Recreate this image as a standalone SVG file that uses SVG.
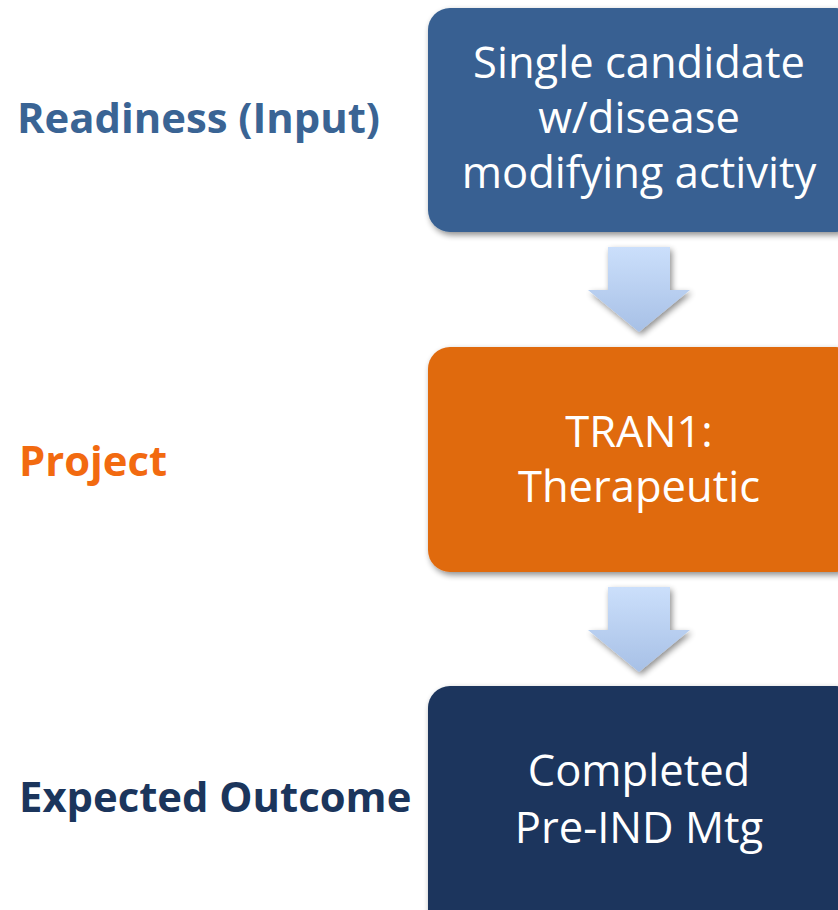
<svg xmlns="http://www.w3.org/2000/svg" width="838" height="910" viewBox="0 0 838 910">
<style>
.box text{font-family:"Open Sans",Lato,sans-serif;font-size:43.5px;fill:#fff;text-anchor:middle}
.lbl{font-family:"Open Sans",Lato,sans-serif;font-size:41.8px;font-weight:bold}
</style>
<defs>
<filter id="sh" x="-10%" y="-10%" width="130%" height="130%">
<feGaussianBlur in="SourceAlpha" stdDeviation="3"/>
<feOffset dx="2" dy="3"/>
<feComponentTransfer><feFuncA type="linear" slope="0.45"/></feComponentTransfer>
<feMerge><feMergeNode/><feMergeNode in="SourceGraphic"/></feMerge>
</filter>
<linearGradient id="ag" x1="0" y1="0" x2="0" y2="1">
<stop offset="0" stop-color="#cbdffb"/>
<stop offset="1" stop-color="#a7c0e6"/>
</linearGradient>
</defs>
<rect width="838" height="910" fill="#fff"/>
<text class="lbl" x="17" y="133" fill="#3a6494">Readiness (Input)</text>
<text class="lbl" x="19" y="476" fill="#f26a10">Project</text>
<text class="lbl" x="19" y="812" fill="#1b355c">Expected Outcome</text>
<g id="connectors" filter="url(#sh)">
<path d="M608 247 H670 V290 H690 L639 332 L588 290 H608 Z" fill="url(#ag)"/>
<path d="M608 587 H670 V630 H690 L639 672 L588 630 H608 Z" fill="url(#ag)"/>
</g>
<g id="n1" class="box">
<rect x="428" y="8" width="430" height="224" rx="22" fill="#386192" filter="url(#sh)"/>
<text x="639" y="78">Single candidate</text>
<text x="639" y="133">w/disease</text>
<text x="639" y="188">modifying activity</text>
</g>
<g id="n2" class="box">
<rect x="428" y="347" width="430" height="225" rx="22" fill="#e06b10" filter="url(#sh)"/>
<text x="639" y="447">TRAN1:</text>
<text x="639" y="502">Therapeutic</text>
</g>
<g id="n3" class="box">
<rect x="428" y="686" width="430" height="250" rx="22" fill="#1b355d" filter="url(#sh)"/>
<text x="639" y="786">Completed</text>
<text x="639" y="843">Pre-IND Mtg</text>
</g>
</svg>
